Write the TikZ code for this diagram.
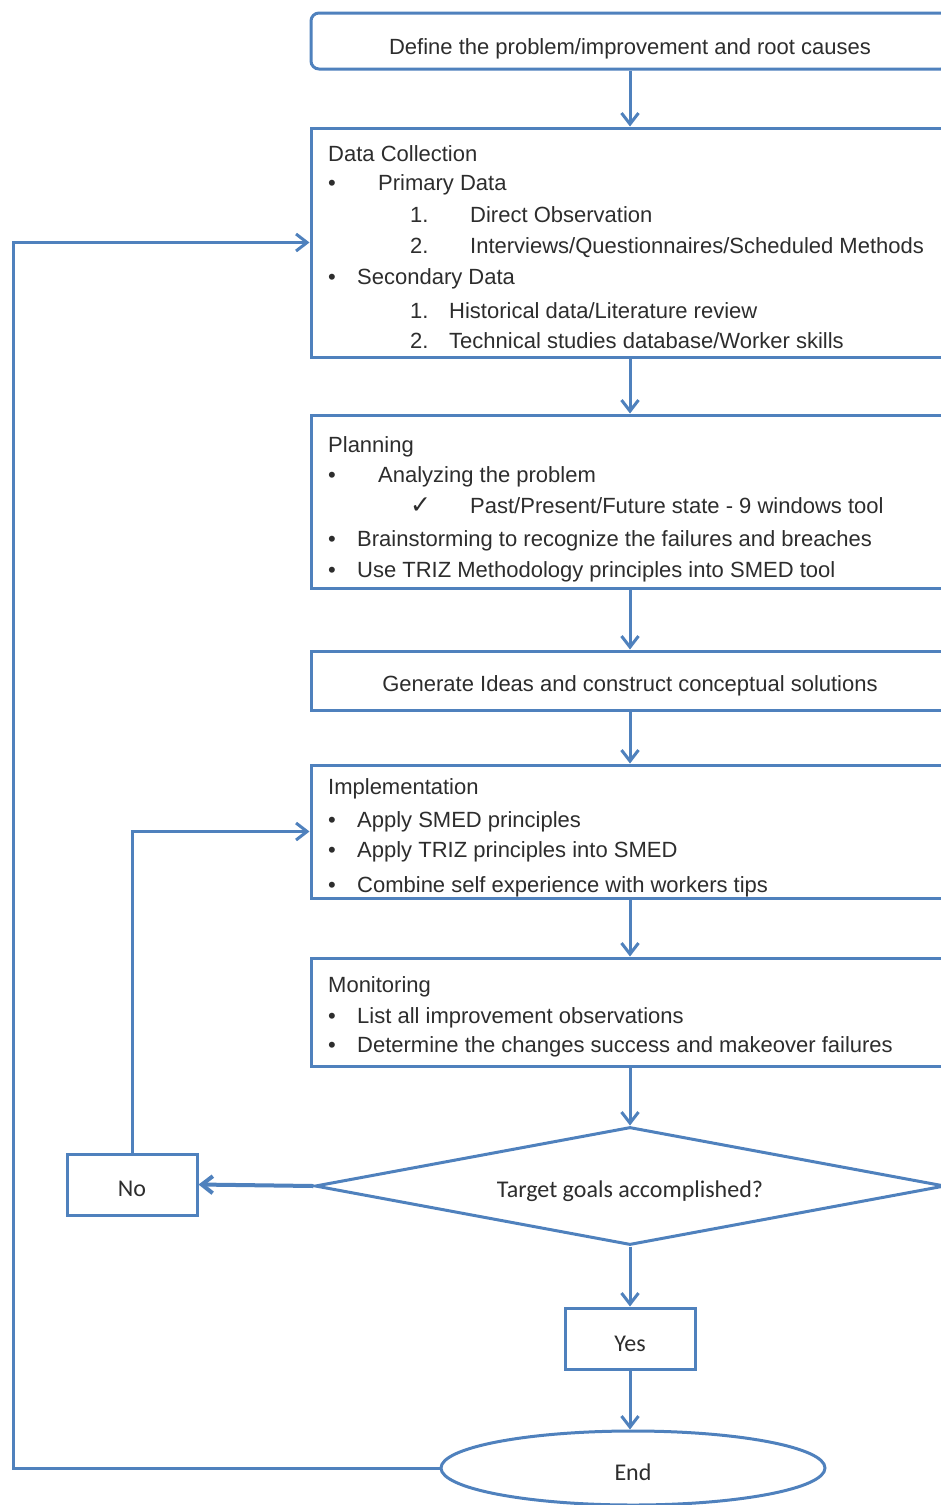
\documentclass[tikz,border=0pt]{standalone}
\usepackage{fontspec}
\setmainfont{Liberation Sans}
\newfontfamily\condfont{Carlito}
\newfontfamily\symfont{DejaVu Sans}
\usepackage{xcolor}
\usepackage{tikz}
\usetikzlibrary{arrows.meta,positioning,shapes.geometric}

\definecolor{lineblue}{RGB}{79,129,189}
\definecolor{ink}{RGB}{45,45,45}
\newcommand{\bodyfont}{\fontsize{22}{26}\selectfont}
\newcommand{\condsize}{\fontsize{24}{28}\selectfont}

\begin{document}
\begin{tikzpicture}[
  x=1pt,y=-1pt,
  stepbox/.style={draw=lineblue,line width=3pt,fill=white,minimum width=638pt,inner sep=0pt},
  smallbox/.style={draw=lineblue,line width=3pt,fill=white,minimum width=130pt,minimum height=61pt,
                   font=\condfont\condsize,text=ink,text height=24pt,text depth=0pt},
  txt/.style={anchor=base west,inner sep=0pt,font=\bodyfont,text=ink},
  flow/.style={draw=lineblue,line width=3pt,-{Straight Barb[length=11pt,width=17pt]}}
]
\useasboundingbox (0,0) rectangle (941,1505);
\fill[white] (0,0) rectangle (941,1505);
\clip (0,0) rectangle (941,1505);

% Process boxes
\node[stepbox,rounded corners=8pt,minimum height=56pt,font=\bodyfont,text=ink,
      text height=26pt,text depth=0pt] (define) at (630,41)
  {Define the problem/improvement and root causes};
\node[stepbox,minimum height=229pt] (data) at (630,242.5) {};
\node[stepbox,minimum height=173pt] (plan) at (630,501.5) {};
\node[stepbox,minimum height=59pt,font=\bodyfont,text=ink,
      text height=21pt,text depth=0pt] (ideas) at (630,680.5)
  {Generate Ideas and construct conceptual solutions};
\node[stepbox,minimum height=133pt] (impl) at (630,831.5) {};
\node[stepbox,minimum height=108pt] (monit) at (630,1012) {};

% Decision and outcomes
\node[diamond,draw=lineblue,line width=3pt,fill=white,aspect=5.34,inner sep=0pt,
      minimum width=630pt,minimum height=118pt,font=\condfont\condsize,text=ink,
      text height=23pt,text depth=0pt] (goal) at (630,1186)
  {Target goals accomplished?};
\node[smallbox] (no) at (132,1184.5) {No};
\node[smallbox,text height=26pt] (yes) at (630,1338.5) {Yes};
\node[ellipse,draw=lineblue,line width=3pt,fill=white,minimum width=384pt,minimum height=74pt,
      font=\condfont\condsize,text=ink,text height=25pt,text depth=0pt] (end) at (633,1468) {End};

% Data collection text
\node[txt] (dc0) at (328,161) {Data Collection};
\node[txt] (dc1) at (328,190) {\makebox[50pt][l]{•}Primary Data};
\node[txt] (dc2) at (410,222) {\makebox[60pt][l]{1.}Direct Observation};
\node[txt] (dc3) at (410,253) {\makebox[60pt][l]{2.}Interviews/Questionnaires/Scheduled Methods};
\node[txt] (dc4) at (328,284) {\makebox[29pt][l]{•}Secondary Data};
\node[txt] (dc5) at (410,318) {\makebox[39pt][l]{1.}Historical data/Literature review};
\node[txt] (dc6) at (410,348) {\makebox[39pt][l]{2.}Technical studies database/Worker skills};

% Planning text
\node[txt] (pl0) at (328,452) {Planning};
\node[txt] (pl1) at (328,482) {\makebox[50pt][l]{•}Analyzing the problem};
\node[txt] (pl2) at (410,513) {\makebox[60pt][l]{{\symfont\fontsize{25}{28}\selectfont ✓}}Past/Present/Future state - 9 windows tool};
\node[txt] (pl3) at (328,546) {\makebox[29pt][l]{•}Brainstorming to recognize the failures and breaches};
\node[txt] (pl4) at (328,577) {\makebox[29pt][l]{•}Use TRIZ Methodology principles into SMED tool};

% Implementation text
\node[txt] (im0) at (328,794) {Implementation};
\node[txt] (im1) at (328,827) {\makebox[29pt][l]{•}Apply SMED principles};
\node[txt] (im2) at (328,857) {\makebox[29pt][l]{•}Apply TRIZ principles into SMED};
\node[txt] (im3) at (328,892) {\makebox[29pt][l]{•}Combine self experience with workers tips};

% Monitoring text
\node[txt] (mo0) at (328,992) {Monitoring};
\node[txt] (mo1) at (328,1023) {\makebox[29pt][l]{•}List all improvement observations};
\node[txt] (mo2) at (328,1052) {\makebox[29pt][l]{•}Determine the changes success and makeover failures};

% Main flow
\draw[flow] (define) -- (data);
\draw[flow] (data) -- (plan);
\draw[flow] (plan) -- (ideas);
\draw[flow] (ideas) -- (impl);
\draw[flow] (impl) -- (monit);
\draw[flow] (monit) -- (goal);
\draw[flow] (goal) -- (yes);
\draw[flow] (yes) -- (end.north -| yes);

% Feedback loops
\draw[flow,line width=4pt] (goal.west) -- (no.east);
\draw[flow] (no.north) |- (impl.west);
\coordinate (loopL) at (13,1468);
\draw[flow] (end.west) -- (loopL) |- (data.west);
\end{tikzpicture}
\end{document}
